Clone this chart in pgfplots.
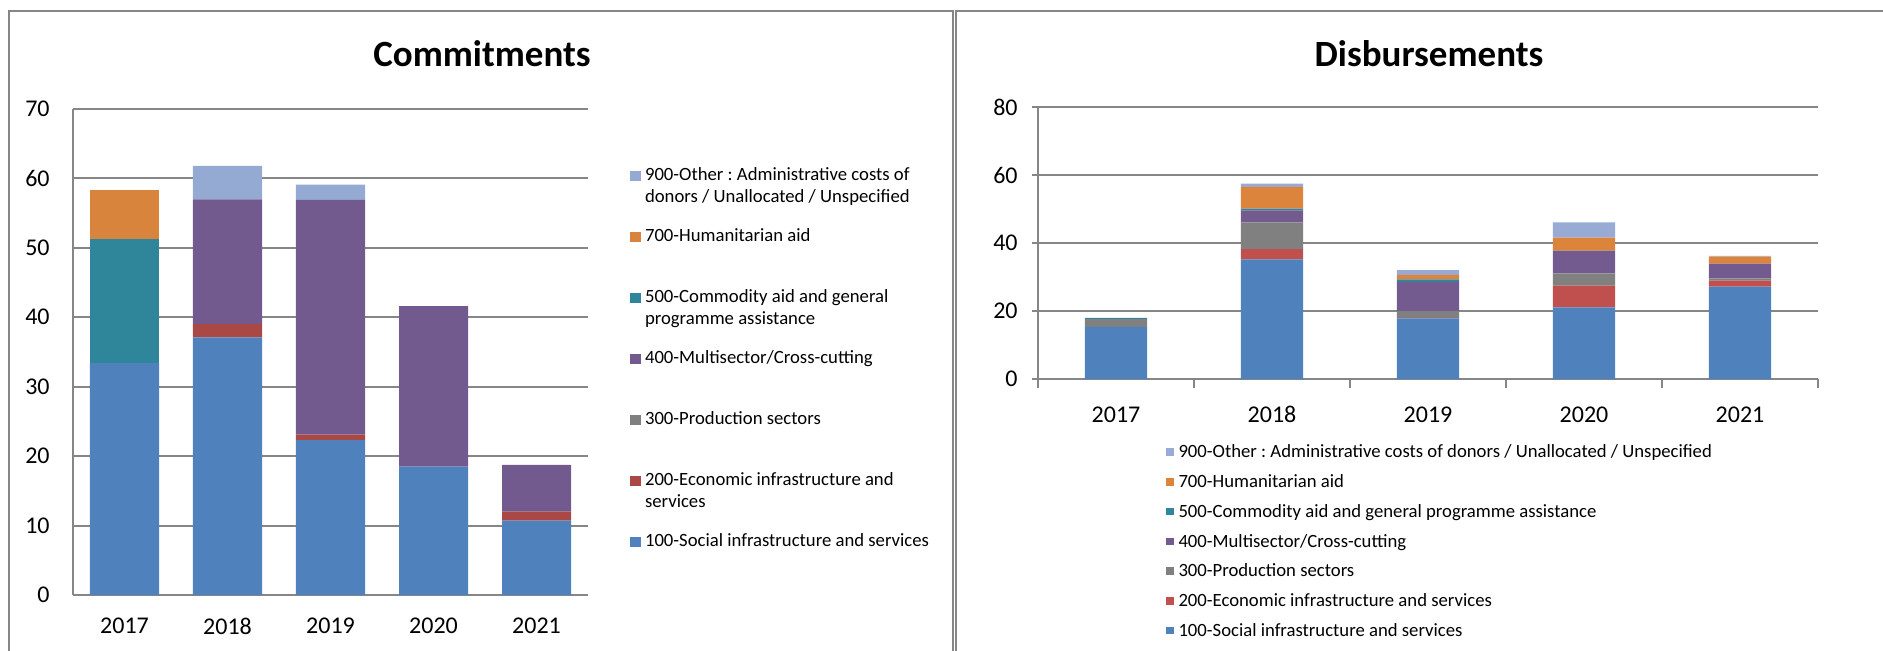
\documentclass[border=0pt]{standalone}
\usepackage{fontspec}
\setmainfont{Carlito}
\usepackage{pgfplots}
\usepackage{pgfplotstable}
\pgfplotsset{compat=1.18}
\frenchspacing

\definecolor{axgray}{HTML}{868686}
% left chart colours
\definecolor{la}{HTML}{4F81BD}
\definecolor{lb}{HTML}{A94844}
\definecolor{lc}{HTML}{7F7F7F}
\definecolor{ld}{HTML}{72598E}
\definecolor{le}{HTML}{2F869B}
\definecolor{lf}{HTML}{D9843C}
\definecolor{lg}{HTML}{95AAD3}
% right chart colours
\definecolor{ra}{HTML}{4F81BD}
\definecolor{rb}{HTML}{C0504D}
\definecolor{rc}{HTML}{808080}
\definecolor{rd}{HTML}{735A8F}
\definecolor{re}{HTML}{31859C}
\definecolor{rf}{HTML}{DC843C}
\definecolor{rg}{HTML}{97ABD4}

% commitments, columns = sector codes
\pgfplotstableread{
x s100 s200 s300 s400 s500 s700 s900
0 33.4 0   0 0    17.9 7.0 0
1 37.1 1.9 0 18.0 0    0   4.8
2 22.3 0.8 0 33.8 0    0   2.2
3 18.5 0   0 23.1 0    0   0
4 10.7 1.3 0 6.75 0    0   0
}\commit

% disbursements
\pgfplotstableread{
x s100 s200 s300 s400 s500 s700 s900
0 15.3 0   2.3 0    0.4 0    0
1 35.2 3.0 7.9 3.5  0.5 6.4  1.0
2 17.8 0.2 2.0 8.6  0.7 1.3  1.4
3 21.1 6.4 3.6 6.65 0   3.85 4.5
4 27.2 1.7 0.7 4.3  0   2.1  0.2
}\disb

\pgfplotsset{
  sectors/.style={
    scale only axis, anchor=south west,
    ybar stacked, ymin=0,
    xmin=-0.5, xmax=4.5, enlargelimits=false,
    xtick={0,...,4}, xticklabels={2017,2018,2019,2020,2021},
    axis x line*=bottom, axis y line*=left,
    axis line style={draw=axgray, line width=1pt, -},
    ymajorgrids, grid style={draw=axgray, line width=1pt},
    tick label style={font=\fontsize{12}{14}\selectfont, inner sep=0pt, text=black},
    /pgf/number format/assume math mode=true,
    reverse legend,
  },
}

\begin{document}
\begin{tikzpicture}
\useasboundingbox (0pt,0pt) rectangle (941.5pt,-325.5pt);
% chart area frames
\draw[axgray, line width=1pt] (4.5pt,-330pt) -- (4.5pt,-5.5pt) -- (476.5pt,-5.5pt) -- (476.5pt,-330pt);
\draw[axgray, line width=1pt] (478pt,-330pt) -- (478pt,-5.5pt) -- (945pt,-5.5pt);

\node[anchor=base, font=\bfseries\fontsize{18.5}{22}\selectfont] at (241pt,-33.35pt) {Commitments};
\node[anchor=base, font=\bfseries\fontsize{18.5}{22}\selectfont] at (714.5pt,-33.35pt) {Disbursements};

\begin{axis}[sectors,
  at={(36.5pt,-297.5pt)}, width=257.5pt, height=243pt,
  ymax=70, ytick={0,10,...,70},
  bar width=0.67,
  major tick length=0pt,
  xticklabel style={anchor=north, yshift=-11.5pt},
  yticklabel style={anchor=east, xshift=-11.5pt},
  legend style={at={(1.0816,0.8895)}, anchor=north west, draw=none, fill=none,
    inner sep=0pt, outer sep=0pt, row sep=0pt, column sep=2pt,
    font=\fontsize{9.35}{10.8}\selectfont,
    cells={anchor=base west},
    nodes={inner sep=0pt, outer sep=0pt, text height=9pt, text depth=21.5pt}},
  legend image code/.code={\path[fill=none, draw=none] (0pt,0pt) rectangle (5.5pt,5pt); \fill[#1] (0pt,0pt) rectangle (5.5pt,5pt);},
]
\addplot[fill=la, draw=none] table[x=x, y=s100] {\commit};
\addlegendentry{100-Social infrastructure and services}
\addplot[fill=lb, draw=none] table[x=x, y=s200] {\commit};
\addlegendentry{\begin{tabular}[t]{@{}l@{}}200-Economic infrastructure and\\services\end{tabular}}
\addplot[fill=lc, draw=none] table[x=x, y=s300] {\commit};
\addlegendentry{300-Production sectors}
\addplot[fill=ld, draw=none] table[x=x, y=s400] {\commit};
\addlegendentry{400-Multisector/Cross-cutting}
\addplot[fill=le, draw=none] table[x=x, y=s500] {\commit};
\addlegendentry{\begin{tabular}[t]{@{}l@{}}500-Commodity aid and general\\programme assistance\end{tabular}}
\addplot[fill=lf, draw=none] table[x=x, y=s700] {\commit};
\addlegendentry{700-Humanitarian aid}
\addplot[fill=lg, draw=none] table[x=x, y=s900] {\commit};
\addlegendentry{\begin{tabular}[t]{@{}l@{}}900-Other : Administrative costs of\\donors / Unallocated / Unspecified\end{tabular}}
\end{axis}

\begin{axis}[sectors,
  at={(519pt,-189.5pt)}, width=390pt, height=136pt,
  ymax=80, ytick={0,20,...,80},
  bar width=0.4,
  tick align=outside, major tick length=3pt,
  y tick style={draw=axgray, line width=1pt},
  major x tick style={draw=none},
  minor xtick={-0.5,0.5,...,4.5}, minor tick length=4.5pt,
  minor x tick style={draw=axgray, line width=1pt},
  xticklabel style={anchor=north, yshift=-10.6pt},
  yticklabel style={anchor=east, xshift=-7pt},
  legend style={at={(0.1641,-0.2305)}, anchor=north west, draw=none, fill=none,
    inner sep=0pt, outer sep=0pt, row sep=0pt, column sep=2.5pt,
    font=\fontsize{9.35}{10.8}\selectfont,
    cells={anchor=base west},
    nodes={inner sep=0pt, outer sep=0pt, text height=8pt, text depth=6.9pt}},
  legend image code/.code={\path[fill=none, draw=none] (0pt,0pt) rectangle (3.75pt,4.75pt); \fill[#1] (0pt,1pt) rectangle (3.75pt,4.75pt);},
]
\addplot[fill=ra, draw=none] table[x=x, y=s100] {\disb};
\addlegendentry{100-Social infrastructure and services}
\addplot[fill=rb, draw=none] table[x=x, y=s200] {\disb};
\addlegendentry{200-Economic infrastructure and services}
\addplot[fill=rc, draw=none] table[x=x, y=s300] {\disb};
\addlegendentry{300-Production sectors}
\addplot[fill=rd, draw=none] table[x=x, y=s400] {\disb};
\addlegendentry{400-Multisector/Cross-cutting}
\addplot[fill=re, draw=none] table[x=x, y=s500] {\disb};
\addlegendentry{500-Commodity aid and general programme assistance}
\addplot[fill=rf, draw=none] table[x=x, y=s700] {\disb};
\addlegendentry{700-Humanitarian aid}
\addplot[fill=rg, draw=none] table[x=x, y=s900] {\disb};
\addlegendentry{900-Other : Administrative costs of donors / Unallocated / Unspecified}
\end{axis}
\end{tikzpicture}
\end{document}
